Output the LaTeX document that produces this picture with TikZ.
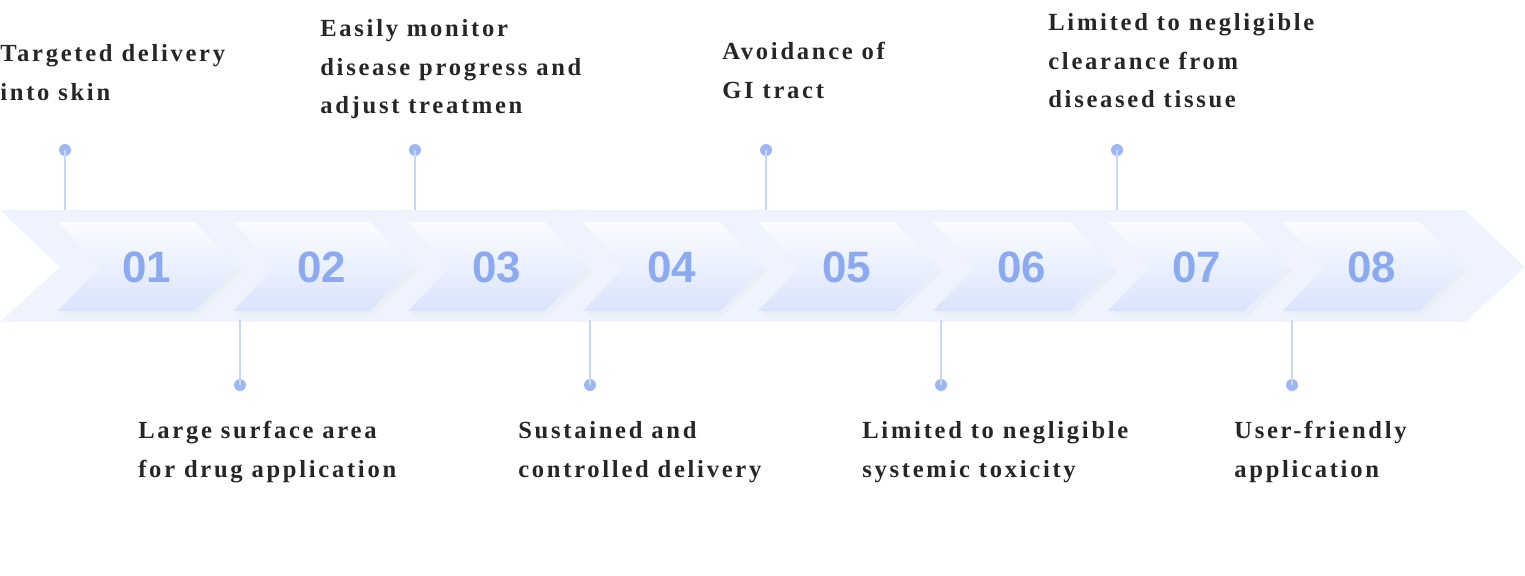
\documentclass[tikz,border=0pt]{standalone}
\usepackage{fontspec}
\setmainfont{Liberation Serif}
\newfontfamily\numfont{Liberation Sans}
\usetikzlibrary{positioning}
\definecolor{bandblue}{HTML}{EEF3FE}
\definecolor{chevtop}{HTML}{FBFCFF}
\definecolor{chevbot}{HTML}{D9E4FC}
\definecolor{numblue}{HTML}{8CAAF2}
\definecolor{pinblue}{HTML}{9DB7F4}
\definecolor{stemblue}{HTML}{C9D7F6}
\tikzset{
  lbl/.style={anchor=north west, align=left, inner sep=0pt,
    font=\fontsize{14}{22}\selectfont\bfseries\addfontfeatures{LetterSpace=11}, text=black!85},
  num/.style={font=\numfont\fontsize{25}{25}\selectfont\bfseries, text=numblue},
  pin/.style={circle, fill=pinblue, inner sep=0pt, minimum size=0.24cm},
  stem/.style={stemblue, line width=1pt}
}
\begin{document}
\begin{tikzpicture}[x=0.02cm, y=-0.02cm]
  \useasboundingbox (0,0) rectangle (1525,575);
  % background band
  \fill[bandblue] (0,210) -- (1465,210) -- (1525,267) -- (1465,322) -- (0,322) -- (60,267) -- cycle;
  \coordinate (bandtop) at (0,210);
  \coordinate (bandbot) at (0,320);
  % chevrons
  \foreach \k/\t in {0/01,1/02,2/03,3/04,4/05,5/06,6/07,7/08} {
    \begin{scope}[xshift=\k*3.5cm]
      \fill[black!10, opacity=0.35] (62,226) -- (199,226) -- (242,271) -- (199,315) -- (62,315) -- (104,271) -- cycle;
      \shade[top color=chevtop, bottom color=chevbot]
        (58,222) -- (195,222) -- (238,267) -- (195,311) -- (58,311) -- (100,267) -- cycle;
      \node[num] (n\k) at (147,267) {\t};
    \end{scope}
  }
  % pins above
  \foreach \i/\x in {1/65,3/415,5/766,7/1117} {
    \node[pin] (p\i) at (\x,150) {};
    \draw[stem] (p\i.center) -- (p\i |- bandtop);
  }
  % pins below
  \foreach \i/\x in {2/240,4/590,6/941,8/1292} {
    \node[pin] (p\i) at (\x,385) {};
    \draw[stem] (p\i.center) -- (p\i |- bandbot);
  }
  % labels
  \node[lbl] (t1) at (0,44) {Targeted delivery\\into skin};
  \node[lbl] (t3) at (320,19) {Easily monitor\\disease progress and\\adjust treatmen};
  \node[lbl] (t5) at (722,42) {Avoidance of\\GI tract};
  \node[lbl] (t7) at (1048,13) {Limited to negligible\\clearance from\\diseased tissue};
  \node[lbl] (t2) at (138,421) {Large surface area\\for drug application};
  \node[lbl] (t4) at (518,421) {Sustained and\\controlled delivery};
  \node[lbl] (t6) at (862,421) {Limited to negligible\\systemic toxicity};
  \node[lbl] (t8) at (1234,421) {User-friendly\\application};
\end{tikzpicture}
\end{document}
